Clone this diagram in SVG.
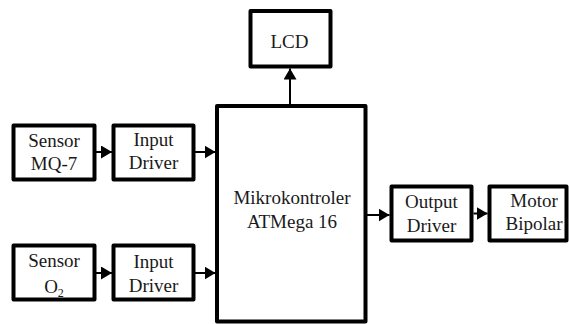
<svg xmlns="http://www.w3.org/2000/svg" width="569" height="324" viewBox="0 0 569 324">
<defs>
<style>
.box{fill:#fff;stroke:#000;stroke-width:4;stroke-linejoin:round}
.lbl{font-size:19px;fill:#1a1a1a;text-anchor:middle}
.con{stroke:#000;stroke-width:2;fill:none}
</style>
<marker id="ah" markerUnits="userSpaceOnUse" markerWidth="12" markerHeight="13" refX="11" refY="6.5" orient="auto">
<path d="M0,0 L11,6.5 L0,13 z" fill="#000"/>
</marker>
</defs>
<rect width="569" height="324" fill="#fff"/>
<g id="connectors">
<line class="con" x1="95.5" y1="152" x2="112" y2="152" marker-end="url(#ah)"/>
<line class="con" x1="193" y1="152" x2="215.5" y2="152" marker-end="url(#ah)"/>
<line class="con" x1="95.5" y1="273" x2="112" y2="273" marker-end="url(#ah)"/>
<line class="con" x1="193" y1="273" x2="215.5" y2="273" marker-end="url(#ah)"/>
<line class="con" x1="290" y1="104" x2="290" y2="68.5" marker-end="url(#ah)"/>
<line class="con" x1="367" y1="215" x2="389.5" y2="215" marker-end="url(#ah)"/>
<line class="con" x1="473.5" y1="213.5" x2="487.5" y2="213.5" marker-end="url(#ah)"/>
</g>
<g font-family="'Liberation Serif', 'DejaVu Serif', serif">
<g id="sensor-mq7">
<rect class="box" x="13.5" y="125.5" width="81" height="54"/>
<text class="lbl" x="54" y="146.5">Sensor</text>
<text class="lbl" x="54" y="170">MQ-7</text>
</g>
<g id="input-driver-1">
<rect class="box" x="113.5" y="125.5" width="80" height="54"/>
<text class="lbl" x="153.5" y="146">Input</text>
<text class="lbl" x="153.5" y="168.5">Driver</text>
</g>
<g id="sensor-o2">
<rect class="box" x="13.5" y="245.5" width="81" height="54"/>
<text class="lbl" x="54" y="266.5">Sensor</text>
<text class="lbl" x="54" y="292.5">O<tspan font-size="12" dy="4">2</tspan></text>
</g>
<g id="input-driver-2">
<rect class="box" x="113.5" y="245.5" width="80" height="54"/>
<text class="lbl" x="153.5" y="268">Input</text>
<text class="lbl" x="153.5" y="291.5">Driver</text>
</g>
<g id="lcd">
<rect class="box" x="250.5" y="11" width="80" height="55.5"/>
<text class="lbl" x="289.5" y="47.5">LCD</text>
</g>
<g id="mikrokontroler">
<rect class="box" x="217" y="106" width="148.5" height="215.5"/>
<text class="lbl" x="292" y="204">Mikrokontroler</text>
<text class="lbl" x="292" y="228">ATMega 16</text>
</g>
<g id="output-driver">
<rect class="box" x="391.5" y="186.5" width="80" height="54"/>
<text class="lbl" x="431.5" y="208">Output</text>
<text class="lbl" x="431.5" y="231.5">Driver</text>
</g>
<g id="motor-bipolar">
<rect class="box" x="489.5" y="186.5" width="77" height="54"/>
<text class="lbl" x="534" y="206.5">Motor</text>
<text class="lbl" x="534" y="230">Bipolar</text>
</g>
</g>
</svg>
